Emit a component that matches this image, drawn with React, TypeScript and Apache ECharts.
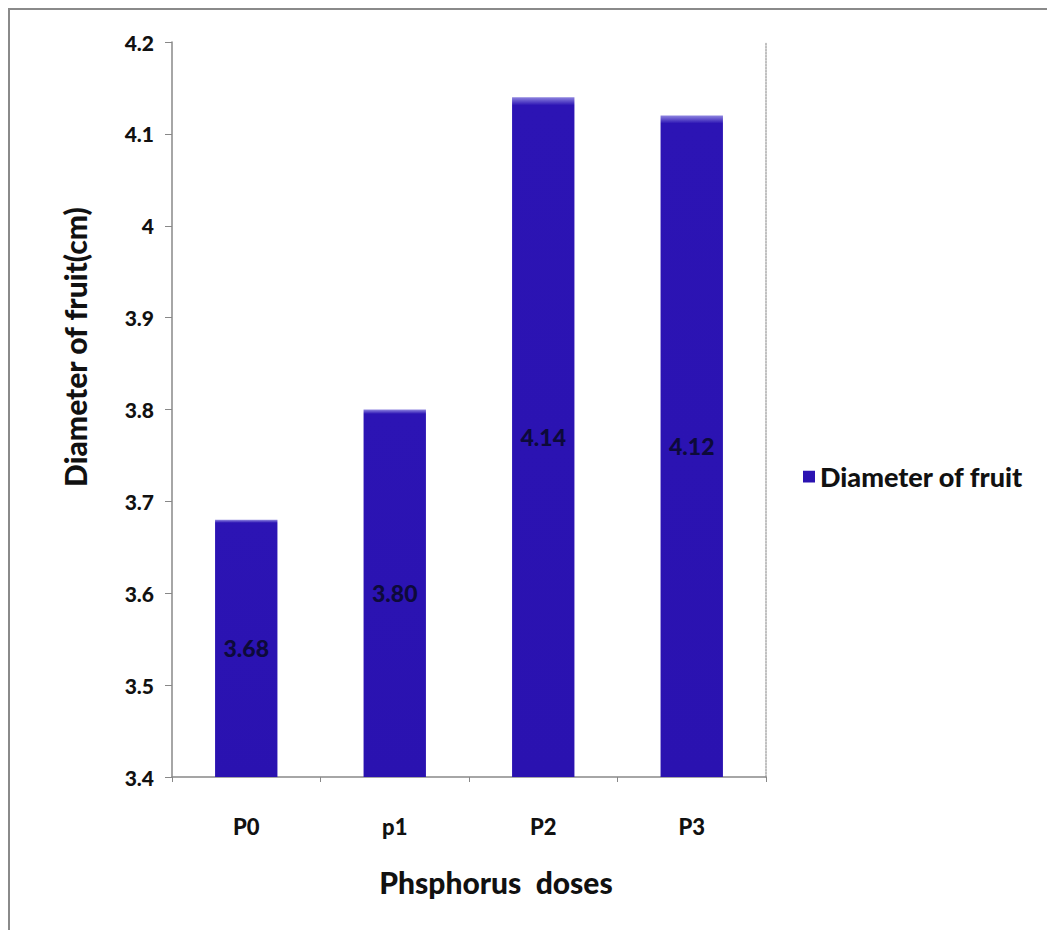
import React, { useEffect, useRef } from "react";
import * as echarts from "echarts";

const categories = ["P0", "p1", "P2", "P3"];
const diameterValues = [3.68, 3.8, 4.14, 4.12];
const yTicks = [3.4, 3.5, 3.6, 3.7, 3.8, 3.9, 4, 4.1, 4.2];
const seriesName = "Diameter of fruit";
const yTitle = "Diameter of fruit(cm)";
const xTitle = "Phsphorus  doses";

export default function App() {
  const ref = useRef<HTMLDivElement>(null);
  useEffect(() => {
    if (!ref.current) return;
    const chart = echarts.init(ref.current, null, { renderer: "svg" });
    const font = "Lato, 'Open Sans', sans-serif";
    chart.setOption({
      animation: false,
      backgroundColor: "#ffffff",
      textStyle: { fontFamily: font },
      graphic: [
        { type: "line", shape: { x1: 1, y1: 0, x2: 1, y2: 922 }, style: { stroke: "#8a8a8a", lineWidth: 2 } },
        { type: "line", shape: { x1: 0, y1: 1, x2: 1047, y2: 1 }, style: { stroke: "#8a8a8a", lineWidth: 2 } },
        {
          type: "text",
          x: 67,
          y: 339,
          rotation: Math.PI / 2,
          style: {
            text: yTitle,
            fontFamily: font,
            fontWeight: 900,
            fontSize: 30,
            fill: "#111",
            align: "center",
            verticalAlign: "middle",
          },
        },
        {
          type: "text",
          x: 488,
          y: 874,
          style: {
            text: xTitle,
            fontFamily: font,
            fontWeight: 900,
            fontSize: 30,
            fill: "#111",
            align: "center",
            verticalAlign: "middle",
          },
        },
      ],
      legend: {
        data: [seriesName],
        left: 790,
        top: 450,
        icon: "rect",
        itemWidth: 12,
        itemHeight: 12,
        itemGap: 4,
        textStyle: { fontFamily: font, fontWeight: 900, fontSize: 27, color: "#111" },
      },
      grid: { left: 164, top: 34, right: 289, bottom: 153, containLabel: false },
      xAxis: {
        type: "category",
        data: categories,
        axisLine: { lineStyle: { color: "#888", width: 1.5 } },
        axisTick: { show: true, length: 5, lineStyle: { color: "#888" } },
        axisLabel: { fontFamily: font, fontWeight: 900, fontSize: 22, color: "#111", margin: 38 },
      },
      yAxis: [
        {
          type: "value",
          min: 3.4,
          max: 4.2,
          interval: 0.1,
          axisLine: { show: true, lineStyle: { color: "#888", width: 1.5 } },
          axisTick: { show: true, length: 7, lineStyle: { color: "#888" } },
          splitLine: { show: false },
          axisLabel: {
            fontFamily: font,
            fontWeight: 900,
            fontSize: 21,
            color: "#111",
            margin: 18,
            formatter: (v: number) => {
              const t = yTicks.find((x) => Math.abs(x - v) < 1e-6);
              return t === undefined ? "" : String(t);
            },
          },
        },
        {
          type: "value",
          min: 3.4,
          max: 4.2,
          interval: 0.1,
          position: "right",
          axisLine: { show: true, lineStyle: { color: "#aaa", type: "dotted", width: 1.5 } },
          axisTick: { show: false },
          axisLabel: { show: false },
          splitLine: { show: false },
        },
      ],
      series: [
        {
          name: seriesName,
          type: "bar",
          data: diameterValues,
          barWidth: "42%",
          itemStyle: {
            color: {
              type: "linear",
              x: 0,
              y: 0,
              x2: 0,
              y2: 1,
              colorStops: [
                { offset: 0, color: "#8f86e0" },
                { offset: 0.012, color: "#2c14b4" },
                { offset: 1, color: "#2a12b0" },
              ],
            },
          },
          label: {
            show: true,
            position: "inside",
            formatter: (p: any) => Number(p.value).toFixed(2),
            fontFamily: font,
            fontWeight: 900,
            fontSize: 23,
            color: "#0d0a3a",
          },
        },
      ],
    });
    return () => chart.dispose();
  }, []);
  return <div ref={ref} style={{ width: 1047, height: 922 }} />;
}
